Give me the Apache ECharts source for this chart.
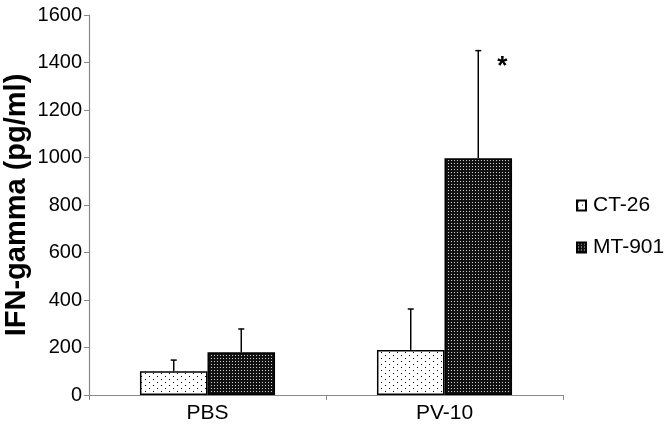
<!DOCTYPE html>
<html>
<head>
<meta charset="utf-8">
<script src="https://cdn.jsdelivr.net/npm/echarts@6/dist/echarts.min.js"></script>
<style>
html,body{margin:0;padding:0;background:#fff;}
#main{width:670px;height:437px;}
</style>
</head>
<body>
<div id="main"></div>
<script>
// data
let categories = ['PBS', 'PV-10'];
let ct26 = [100, 190];
let ct26Err = [147, 362];
let mt901 = [180, 997];
let mt901Err = [278, 1450];
let yTicks = [0, 200, 400, 600, 800, 1000, 1200, 1400, 1600];

//点状填充
function makePattern(w, h, bg, fg, dots) {
    let c = document.createElement('canvas');
    c.width = w;
    c.height = h;
    let ctx = c.getContext('2d');
    ctx.fillStyle = bg;
    ctx.fillRect(0, 0, w, h);
    ctx.fillStyle = fg;
    dots.forEach(function (d) {
        ctx.fillRect(d[0], d[1], 1, 1);
    });
    return {image: c, repeat: 'repeat'};
}

let lightFill = makePattern(8, 6, '#ffffff', '#000000', [[1, 1], [5, 4]]);
let darkFill = makePattern(3, 3, '#111111', '#cfcfcf', [[1, 1]]);

let catGap = 0.43;

function errorSeries(name, values, errs, side) {
    return {
        name: name,
        type: 'custom',
        z: 5,
        silent: true,
        data: categories.map(function (c, i) { return [i, values[i], errs[i]]; }),
        renderItem: function (params, api) {
            let band = api.size([1, 0])[0];
            let bw = band * (1 - catGap) / 2;
            let base = api.coord([api.value(0), api.value(1)]);
            let top = api.coord([api.value(0), api.value(2)]);
            let x = base[0] + side * bw / 2;
            let style = {stroke: '#000', lineWidth: 1.5};
            return {
                type: 'group',
                children: [
                    {type: 'line', shape: {x1: x, y1: base[1], x2: x, y2: top[1]}, style: style},
                    {type: 'line', shape: {x1: x - 3, y1: top[1], x2: x + 3, y2: top[1]}, style: style}
                ]
            };
        }
    };
}

let chart = echarts.init(document.getElementById('main'));
chart.setOption({
    animation: false,
    textStyle: {fontFamily: 'Liberation Sans'},
    grid: {left: 89, right: 107, top: 15, bottom: 42, outerBoundsMode: 'none', containLabel: false},
    legend: {
        orient: 'vertical',
        left: 571,
        top: 190,
        itemGap: 21,
        itemWidth: 9,
        itemHeight: 10,
        icon: 'rect',
        data: ['CT-26', 'MT-901'],
        textStyle: {fontSize: 21, color: '#000', fontFamily: 'Liberation Sans', padding: [0, 0, 0, 2]}
    },
    xAxis: {
        type: 'category',
        data: categories,
        axisLine: {lineStyle: {color: '#8a8a8a', width: 1.2}},
        axisTick: {show: true, length: 5, lineStyle: {color: '#8a8a8a'}},
        axisLabel: {fontSize: 21, color: '#000', margin: 8}
    },
    yAxis: {
        type: 'value',
        min: yTicks[0],
        max: yTicks[yTicks.length - 1],
        interval: 200,
        name: 'IFN-gamma (pg/ml)',
        nameLocation: 'middle',
        nameGap: 58,
        nameMoveOverlap: false,
        nameTextStyle: {fontSize: 29, fontWeight: 'bold', color: '#000', fontFamily: 'Liberation Sans'},
        axisLine: {show: true, lineStyle: {color: '#8a8a8a', width: 1.2}},
        axisTick: {show: true, length: 5, lineStyle: {color: '#8a8a8a'}},
        splitLine: {show: false},
        axisLabel: {fontSize: 20, color: '#000', margin: 7, formatter: function (v) { return String(v); }}
    },
    series: [
        {
            name: 'CT-26',
            type: 'bar',
            data: ct26,
            barGap: '0%',
            barCategoryGap: (catGap * 100) + '%',
            itemStyle: {color: lightFill, borderColor: '#000', borderWidth: 1.5}
        },
        {
            name: 'MT-901',
            type: 'bar',
            data: mt901,
            itemStyle: {color: darkFill, borderColor: '#000', borderWidth: 1.5},
            markPoint: {
                symbol: 'circle',
                symbolSize: 0,
                data: [{coord: ['PV-10', mt901Err[1]]}],
                label: {show: true, formatter: '*', fontSize: 26, fontWeight: 'bold', color: '#000', offset: [24, 16]}
            }
        },
        errorSeries('CT-26 err', ct26, ct26Err, -1),
        errorSeries('MT-901 err', mt901, mt901Err, 1)
    ]
});
</script>
</body>
</html>
